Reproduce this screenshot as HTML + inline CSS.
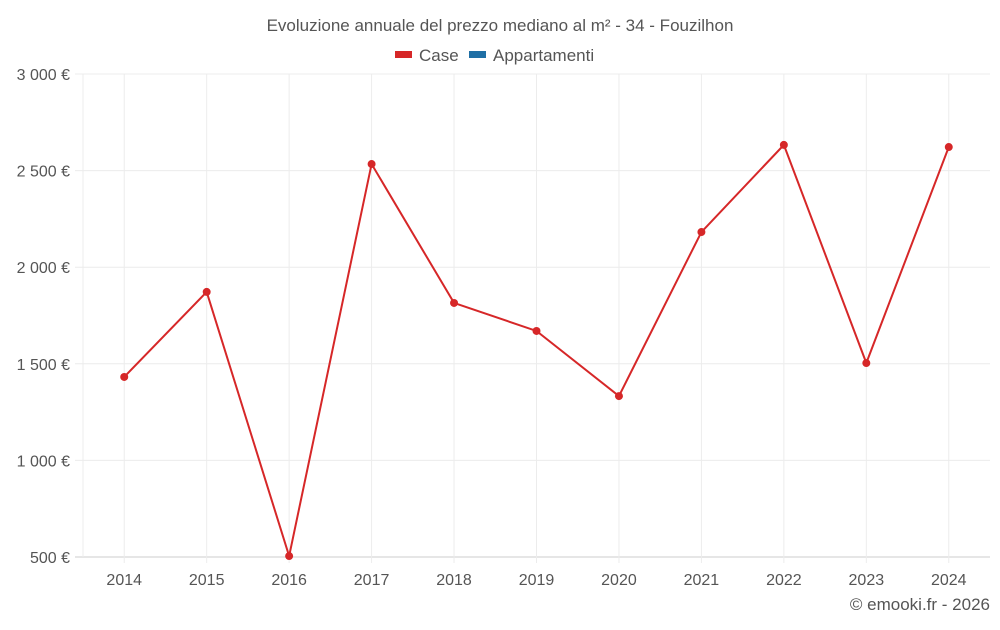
<!DOCTYPE html>
<html><head><meta charset="utf-8"><style>
body{margin:0;background:#fff;font-family:"Liberation Sans",sans-serif;}
svg text{font-family:"Liberation Sans",sans-serif;}
</style></head><body>
<svg id="chart" width="1000" height="625" xmlns="http://www.w3.org/2000/svg">
<text x="500" y="31" text-anchor="middle" font-size="17" fill="#555">Evoluzione annuale del prezzo mediano al m² - 34 - Fouzilhon</text>
<g><rect x="395" y="51" width="17" height="7" fill="#d62728"/><text x="419" y="61" font-size="17" fill="#555">Case</text></g>
<g><rect x="469" y="51" width="17" height="7" fill="#1f6fa5"/><text x="493" y="61" font-size="17" fill="#555">Appartamenti</text></g>
<g id="grid"></g><g id="axes"></g><g id="series"></g>
<text x="990" y="610" text-anchor="end" font-size="17" fill="#555">© emooki.fr - 2026</text>
</svg>
<script>
const years=["2014","2015","2016","2017","2018","2019","2020","2021","2022","2023","2024"];
const caseValues=[1432,1872,505,2534,1815,1670,1333,2182,2633,1504,2622];
const yTicks=[500,1000,1500,2000,2500,3000];
const yTickLabels=["500 €","1 000 €","1 500 €","2 000 €","2 500 €","3 000 €"];
const NS="http://www.w3.org/2000/svg";
const L=83,R=990,T=74,B=557,ymin=500,ymax=3000;
const bw=(R-L)/years.length;
const xs=i=>L+bw*(i+0.5);
const ys=v=>B-(v-ymin)/(ymax-ymin)*(B-T);
function mk(tag,attrs,parent){const e=document.createElementNS(NS,tag);for(const k in attrs)e.setAttribute(k,attrs[k]);document.getElementById(parent).appendChild(e);return e;}
yTicks.forEach((t,i)=>{
 const g=mk('line',{x1:75,x2:R,y1:ys(t),y2:ys(t),stroke:i==0?'#ccc':'#ececec'},'grid');
 
 
 const tx=mk('text',{x:70,y:ys(t)+6,'text-anchor':'end','font-size':16,fill:'#555'},'axes');
 tx.textContent=yTickLabels[i];
 
 
});
const ax=mk('line',{x1:L,x2:L,y1:T,y2:B,stroke:'#ececec'},'grid');


years.forEach((y,i)=>{
 const g=mk('line',{x1:xs(i),x2:xs(i),y1:T,y2:B+6,stroke:'#ececec'},'grid');
 
 
 const tx=mk('text',{x:xs(i),y:585,'text-anchor':'middle','font-size':16,fill:'#555'},'axes');
 tx.textContent=y;
 
 
});
const line=mk('polyline',{points:caseValues.map((v,i)=>xs(i)+','+ys(v)).join(' '),fill:'none',stroke:'#d62728','stroke-width':2},'series');


caseValues.forEach((v,i)=>{
 const c=mk('circle',{cx:xs(i),cy:ys(v),r:4,fill:'#d62728'},'series');
 
 
});
</script>
</body></html>
